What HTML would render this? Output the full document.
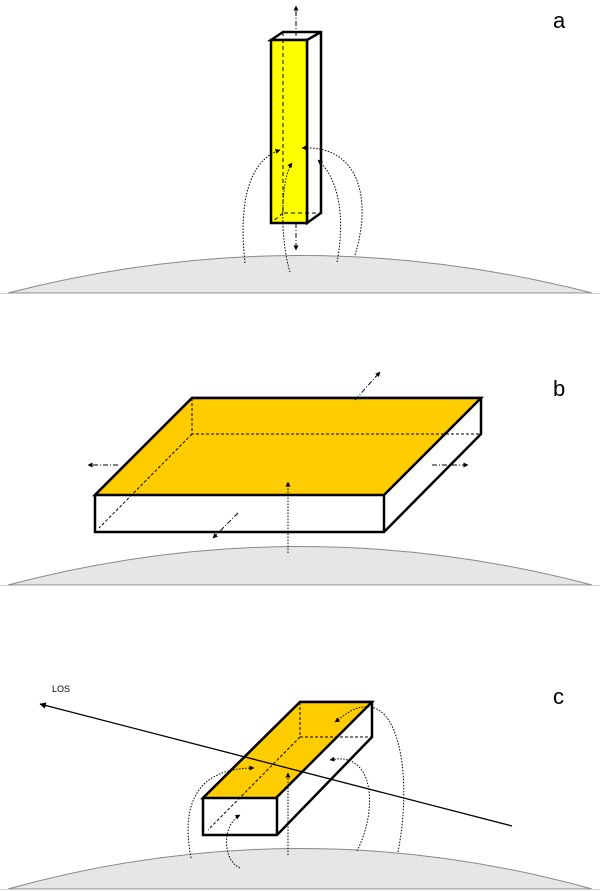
<!DOCTYPE html>
<html><head><style>body{margin:0;background:#fff}svg{display:block}text{font-family:"Liberation Sans",sans-serif}</style></head>
<body>
<svg width="600" height="891" viewBox="0 0 600 891" xmlns="http://www.w3.org/2000/svg">
<defs>
<marker id="ar" viewBox="0 0 10 10" refX="9" refY="5" markerWidth="5" markerHeight="5" orient="auto"><path d="M0,0L10,5L0,10z" fill="#000"/></marker>
</defs>
<g fill="#e6e6e6" stroke="#888" stroke-width="1">
<path d="M8,293 Q300,218 592,293 Z"/>
<path d="M8,585 Q300,508 592,585 Z"/>
<path d="M8,889 Q300,808 592,889 Z"/>
</g>
<line x1="0" y1="293.5" x2="600" y2="293.5" stroke="#ccc"/>
<line x1="0" y1="585.5" x2="600" y2="585.5" stroke="#ccc"/>
<line x1="0" y1="889.5" x2="600" y2="889.5" stroke="#ccc"/>

<text x="553" y="28" font-size="22">a</text>
<text x="553" y="396" font-size="22">b</text>
<text x="553" y="704" font-size="22">c</text>

<!-- panel a -->
<polygon points="271,40 283,32 321,32 321,213 307,223 307,40" fill="#fff" stroke="#000" stroke-width="2.5"/>
<rect x="271" y="40" width="36" height="183" fill="#ffff00" stroke="#000" stroke-width="2.5"/>
<line x1="307" y1="40" x2="321" y2="32" stroke="#000" stroke-width="2.5"/>
<g stroke="#000" stroke-width="1" stroke-dasharray="4,3" fill="none">
<path d="M283,32 L283,213 L321,213 M283,213 L271,223"/>
</g>
<g stroke="#000" stroke-width="1" stroke-dasharray="5,2,1,2" fill="none">
<line x1="296" y1="36" x2="296" y2="6" marker-end="url(#ar)"/>
<line x1="296" y1="223" x2="296" y2="250" marker-end="url(#ar)"/>
</g>
<g fill="none" stroke="#000" stroke-width="1" stroke-dasharray="1.5,1.5">
<path d="M245,263 C238,200 250,160 280,150" marker-end="url(#ar)"/>
<path d="M290,272 C280,240 280,180 292,163" marker-end="url(#ar)"/>
<path d="M337,262 C345,220 340,180 318,160" marker-end="url(#ar)"/>
<path d="M355,255 C372,200 360,145 302,148" marker-end="url(#ar)"/>
</g>

<!-- panel b -->
<polygon points="95,495 192,398 481,398 481,434 384,532 95,532" fill="#fff" stroke="#000" stroke-width="2.5"/>
<polygon points="95,495 192,398 481,398 384,495" fill="#ffcc00" stroke="#000" stroke-width="2.5"/>
<line x1="384" y1="495" x2="384" y2="532" stroke="#000" stroke-width="2.5"/>
<g stroke="#000" stroke-width="1" stroke-dasharray="3,2" fill="none">
<path d="M192,398 L192,434 L481,434 M192,434 L99,528"/>
</g>
<g stroke="#000" stroke-width="1" stroke-dasharray="5,2,1,2" fill="none">
<line x1="118" y1="465" x2="88" y2="465" marker-end="url(#ar)"/>
<line x1="432" y1="465" x2="468" y2="465" marker-end="url(#ar)"/>
<line x1="355" y1="400" x2="380" y2="372" marker-end="url(#ar)"/>
<line x1="238" y1="513" x2="213" y2="538" marker-end="url(#ar)"/>
</g>
<line x1="288" y1="553" x2="288" y2="482" stroke="#000" stroke-width="1" stroke-dasharray="1.5,1.5" marker-end="url(#ar)"/>

<!-- panel c -->
<polygon points="203,798 300,702 372,702 372,737 277,835 203,835" fill="#fff" stroke="#000" stroke-width="2.5"/>
<polygon points="203,798 300,702 372,702 276,798" fill="#ffcc00" stroke="#000" stroke-width="2.5"/>
<line x1="277" y1="798" x2="277" y2="835" stroke="#000" stroke-width="2.5"/>
<g stroke="#000" stroke-width="1" stroke-dasharray="3,2" fill="none">
<path d="M300,702 L300,737 L372,737 M300,737 L208,830"/>
</g>
<g fill="none" stroke="#000" stroke-width="1" stroke-dasharray="1.5,1.5">
<path d="M191,858 C180,800 200,768 254,768" marker-end="url(#ar)"/>
<path d="M240,868 C222,860 222,825 240,815" marker-end="url(#ar)"/>
<path d="M357,851 C378,810 375,750 330,760" marker-end="url(#ar)"/>
<path d="M398,852 C412,780 400,710 370,707 C355,705 345,715 335,722" marker-end="url(#ar)"/>
</g>
<line x1="288" y1="855" x2="288" y2="773" stroke="#000" stroke-width="1" stroke-dasharray="1.5,1.5" marker-end="url(#ar)"/>
<line x1="512" y1="826" x2="40" y2="704" stroke="#000" stroke-width="1.3" marker-end="url(#ar)"/>
<text x="52" y="692" font-size="9">LOS</text>
</svg>
</body></html>
